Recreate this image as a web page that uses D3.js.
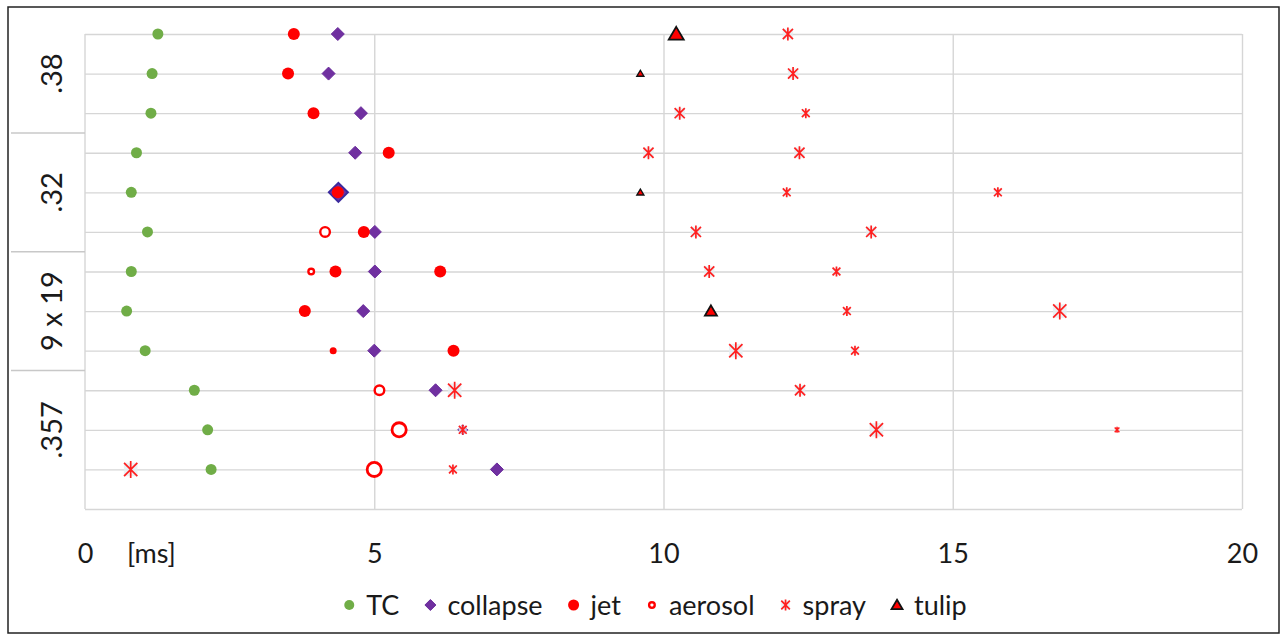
<!DOCTYPE html>
<html>
<head>
<meta charset="utf-8">
<script src="https://cdn.jsdelivr.net/npm/d3@7"></script>
<style>
  html, body { margin: 0; padding: 0; background: #fff; }
  svg { display: block; font-family: Lato, "Open Sans", sans-serif; }
</style>
</head>
<body>
<svg id="chart" width="1283" height="638"></svg>
<script>
// ---------------- DATA ----------------
// Rows are numbered 0..11 from top to bottom, three rows per group.
const groups = [".38", ".32", "9 x 19", ".357"];
const rowsPerGroup = 3;
const xTicks = [0, 5, 10, 15, 20];
const xUnit = "[ms]";

// [row, time in ms, marker size class]
const tcPoints = [
  [0, 1.26, "M"], [1, 1.16, "M"], [2, 1.14, "M"], [3, 0.89, "M"], [4, 0.80, "M"], [5, 1.08, "M"],
  [6, 0.80, "M"], [7, 0.72, "M"], [8, 1.04, "M"], [9, 1.89, "M"], [10, 2.12, "M"], [11, 2.18, "M"]
];
const collapsePoints = [
  [0, 4.37, "M"], [1, 4.21, "M"], [2, 4.77, "M"], [3, 4.67, "M"], [4, 4.38, "L"], [5, 5.01, "M"],
  [6, 5.01, "M"], [7, 4.81, "M"], [8, 5.00, "M"], [9, 6.06, "M"], [10, 6.53, "S"], [11, 7.12, "M"]
];
const jetPoints = [
  [0, 3.61, "M"], [1, 3.51, "M"], [2, 3.95, "M"], [3, 5.25, "M"], [4, 4.37, "M"], [5, 4.82, "M"],
  [6, 4.33, "M"], [6, 6.14, "M"], [7, 3.80, "M"], [8, 4.29, "S"], [8, 6.37, "M"]
];
const aerosolPoints = [
  [5, 4.15, "M"], [6, 3.91, "S"], [9, 5.09, "M"], [10, 5.43, "L"], [11, 5.00, "L"]
];
const sprayPoints = [
  [0, 12.15, "M"], [1, 12.24, "M"], [2, 10.28, "M"], [2, 12.46, "S"], [3, 9.74, "M"], [3, 12.35, "M"],
  [4, 12.13, "S"], [4, 15.78, "S"], [5, 10.56, "M"], [5, 13.59, "M"], [6, 10.79, "M"], [6, 12.99, "S"],
  [7, 13.17, "S"], [7, 16.85, "L"], [8, 11.25, "L"], [8, 13.31, "S"], [9, 6.39, "L"], [9, 12.36, "M"],
  [10, 6.53, "S"], [10, 13.68, "L"], [10, 17.84, "XS"], [11, 0.79, "L"], [11, 6.36, "S"]
];
const tulipPoints = [
  [0, 10.22, "L"], [1, 9.60, "S"], [4, 9.60, "S"], [7, 10.82, "M"]
];
const seriesNames = ["TC", "collapse", "jet", "aerosol", "spray", "tulip"];

(function () {
// ---------------- LAYOUT / STYLE ----------------
const svg = d3.select("#chart");
const pLeft = 85, pRight = 1242, pTop = 34, pBottom = 509;
const x = d3.scaleLinear().domain([0, 20]).range([pLeft, pRight]);
const nRows = groups.length * rowsPerGroup;
const y = d3.scaleLinear().domain([0, nRows]).range([pTop, pBottom]);

const GRID = "#d6d6d6";
const TXT = "#1a1a1a";

// outer frame
svg.append("rect").attr("x", 8).attr("y", 7).attr("width", 1271).attr("height", 626)
  .attr("fill", "none").attr("stroke", "#222").attr("stroke-width", 1.5);

// vertical gridlines
svg.append("g").attr("transform", `translate(0,${pBottom})`)
  .call(d3.axisBottom(x).tickValues(xTicks.slice(1)).tickSize(-(pBottom - pTop)).tickFormat(""))
  .call(g => g.select(".domain").remove())
  .call(g => g.selectAll("line").attr("stroke", GRID).attr("stroke-width", 1.4));

// horizontal gridlines (rows + bottom line)
svg.append("g").attr("transform", `translate(${pLeft},0)`)
  .call(d3.axisLeft(y).tickValues(d3.range(0, nRows + 1)).tickSize(-(pRight - pLeft)).tickFormat(""))
  .call(g => g.select(".domain").remove())
  .call(g => g.selectAll("line").attr("stroke", GRID).attr("stroke-width", 1.4));

// left axis line
svg.append("line").attr("x1", pLeft).attr("x2", pLeft).attr("y1", pTop).attr("y2", pBottom)
  .attr("stroke", GRID).attr("stroke-width", 1.4);

// group dividers
const dividers = d3.range(1, groups.length).map(i => i * rowsPerGroup - 0.5);
svg.selectAll("line.div").data(dividers).join("line").attr("class", "div")
  .attr("x1", 11).attr("x2", pLeft).attr("y1", d => y(d)).attr("y2", d => y(d))
  .attr("stroke", "#c8c8c8").attr("stroke-width", 1.4);

// group labels
svg.selectAll("text.grp").data(groups).join("text").attr("class", "grp")
  .attr("transform", (d, i) => `translate(62,${y(i * rowsPerGroup + (rowsPerGroup - 1) / 2)}) rotate(-90)`)
  .attr("text-anchor", "middle").attr("font-size", 29).attr("fill", TXT).text(d => d);

// x tick labels
svg.append("g").attr("transform", `translate(0,${pBottom})`)
  .call(d3.axisBottom(x).tickValues(xTicks).tickSize(0).tickPadding(0).tickFormat(d3.format("d")))
  .call(g => g.select(".domain").remove())
  .call(g => g.selectAll("text").attr("y", 54).attr("dy", 0).attr("font-size", 27)
    .attr("font-family", "Lato, 'Open Sans', sans-serif").attr("fill", TXT));
svg.append("text").attr("x", x(0) + 42).attr("y", pBottom + 54).attr("font-size", 27)
  .attr("fill", TXT).text(xUnit);

// ---------------- MARKERS ----------------
const COLORS = { TC: "#70ad47", collapse: "#7030a0", jet: "#ff0000", aerosol: "#ff0000", spray: "#ff2020", tulip: "#ff0000" };
const SIZES = {
  TC: { M: 11 },
  collapse: { S: 10, M: 13, L: 19 },
  jet: { S: 7, M: 12 },
  aerosol: { S: 8, M: 12, L: 17 },
  spray: { XS: 6, S: 10, M: 13, L: 17 },
  tulip: { S: 7, M: 12, L: 15 }
};

function drawMarker(g, type, s) {
  const h = s / 2;
  if (type === "TC" || type === "jet") {
    g.append("circle").attr("r", h).attr("fill", COLORS[type]);
  } else if (type === "collapse") {
    g.append("path").attr("d", `M0,${-h}L${h},0L0,${h}L${-h},0Z`)
      .attr("fill", COLORS.collapse).attr("stroke", s > 15 ? "#3b2a9e" : "#6a2c9c").attr("stroke-width", s > 15 ? 2 : 1);
  } else if (type === "aerosol") {
    const sw = s > 14 ? 2.8 : 2.4;
    g.append("circle").attr("r", h - sw / 2).attr("fill", "#fff")
      .attr("stroke", COLORS.aerosol).attr("stroke-width", sw);
  } else if (type === "spray") {
    g.append("rect").attr("x", -h * 0.8).attr("y", -h * 0.8).attr("width", h * 1.6).attr("height", h * 1.6)
      .attr("fill", "#e6eef1").attr("opacity", 0.8);
    const d = h * 0.78;
    g.append("path").attr("d", `M0,${-h}V${h}M${-d},${-d}L${d},${d}M${d},${-d}L${-d},${d}`)
      .attr("stroke", COLORS.spray).attr("stroke-width", s > 8 ? 1.7 : 1.5).attr("fill", "none");
  } else if (type === "tulip") {
    g.append("path").attr("d", `M0,${-h * 0.95}L${h},${h * 0.75}L${-h},${h * 0.75}Z`)
      .attr("fill", COLORS.tulip).attr("stroke", "#111").attr("stroke-width", s > 9 ? 1.8 : 1.4)
      .attr("stroke-linejoin", "miter");
  }
}

const seriesData = [
  ["TC", tcPoints], ["collapse", collapsePoints], ["jet", jetPoints],
  ["aerosol", aerosolPoints], ["spray", sprayPoints], ["tulip", tulipPoints]
];
seriesData.forEach(([name, pts]) => {
  const layer = svg.append("g").attr("class", "series-" + name);
  layer.selectAll("g.pt").data(pts).join("g").attr("class", "pt")
    .attr("transform", d => `translate(${x(d[1])},${y(d[0])})`)
    .each(function (d) { drawMarker(d3.select(this), name, SIZES[name][d[2]]); });
});

// ---------------- LEGEND ----------------
const legendSizes = { TC: 10, collapse: 11, jet: 11, aerosol: 8, spray: 11, tulip: 11 };
const legend = svg.append("g");
let cursor = 0;
seriesNames.forEach((name) => {
  const item = legend.append("g").attr("transform", `translate(${cursor},0)`);
  drawMarker(item.append("g"), name, legendSizes[name]);
  const t = item.append("text").attr("x", 17).attr("y", 9.5).attr("font-size", 27)
    .attr("fill", TXT).text(name);
  cursor += 17 + t.node().getComputedTextLength() + 31;
});
const legendWidth = cursor - 31;
legend.attr("transform", `translate(${653 - legendWidth / 2 + 5},605)`);
})();
</script>
</body>
</html>
